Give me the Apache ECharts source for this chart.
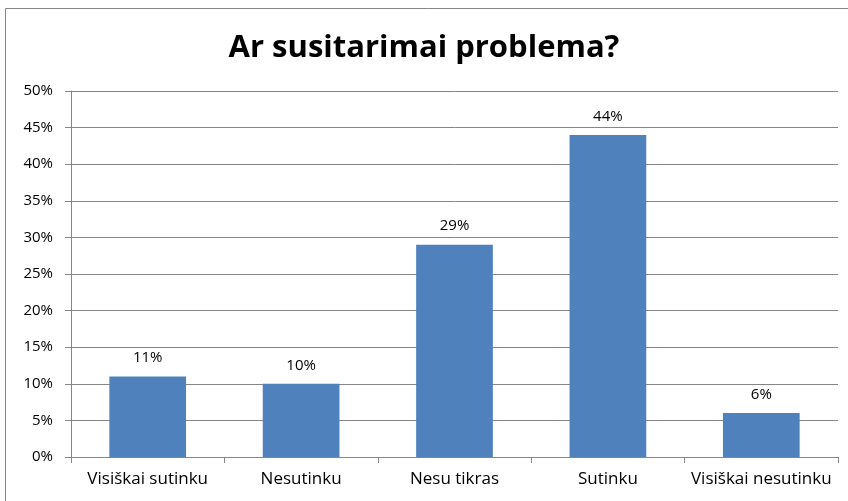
<!DOCTYPE html>
<html><head><meta charset="utf-8">
<script src="https://cdn.jsdelivr.net/npm/echarts@6/dist/echarts.min.js"></script>
<style>html,body{margin:0;padding:0;background:#fff;}#c{width:848px;height:501px;}</style>
</head><body><div id="c"></div>
<script>
const categories = ["Visiškai sutinku", "Nesutinku", "Nesu tikras", "Sutinku", "Visiškai nesutinku"];
const values = [11, 10, 29, 44, 6];
const titleText = "Ar susitarimai problema?";
const font = "'Open Sans', sans-serif";
const chart = echarts.init(document.getElementById('c'));
chart.setOption({
  animation: false,
  title: { text: titleText, left: 'center', top: 28, textStyle: { fontFamily: font, fontSize: 31, fontWeight: 'bold', color: '#000' } },
  graphic: [{ type: 'rect', shape: { x: 5.5, y: 8.5, width: 860, height: 520 }, style: { fill: 'none', stroke: '#868686', lineWidth: 1 }, silent: true }],
  grid: { left: 71, right: 10, top: 91, bottom: 44 },
  xAxis: {
    type: 'category', data: categories,
    axisLine: { lineStyle: { color: '#868686' } },
    axisTick: { show: true, alignWithLabel: false, length: 6, lineStyle: { color: '#868686' } },
    axisLabel: { color: '#000', fontFamily: font, fontSize: 17, margin: 14, interval: 0 }
  },
  yAxis: {
    type: 'value', min: 0, max: 50, interval: 5,
    axisLine: { show: true, lineStyle: { color: '#868686' } },
    axisTick: { show: true, length: 6, lineStyle: { color: '#868686' } },
    splitLine: { lineStyle: { color: '#868686' } },
    axisLabel: { color: '#000', fontFamily: font, fontSize: 15, margin: 18, formatter: '{value}%' }
  },
  series: [{
    type: 'bar', data: values, barWidth: '50%',
    itemStyle: { color: '#4F81BD' },
    label: { show: true, position: 'top', distance: 11, formatter: '{c}%', color: '#000', fontFamily: font, fontSize: 15 }
  }]
});
</script></body></html>
